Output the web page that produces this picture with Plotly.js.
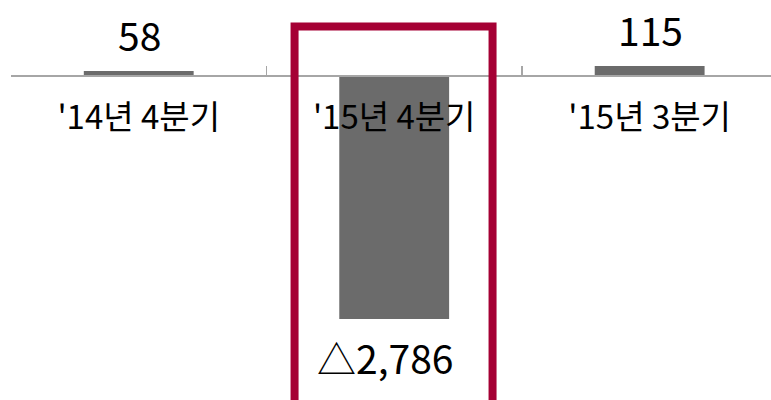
<!DOCTYPE html>
<html>
<head>
<meta charset="utf-8">
<script src="https://cdn.plot.ly/plotly-3.0.1.min.js"></script>
<style>html,body{margin:0;padding:0;background:#fff;}#chart{width:771px;height:400px;}</style>
</head>
<body>
<div id="chart"></div>
<script>
var categories = ["'14년 4분기", "'15년 4분기", "'15년 3분기"];
var values = [58, -2786, 115];

function fmt(v) {
  var s = Math.abs(v).toLocaleString('en-US');
  return v < 0 ? '△' + s : s;
}

var FONT = '"Noto Sans CJK KR", "Noto Sans", sans-serif';
var yRange = [-3715, 871];

var annotations = categories.map(function (c, i) {
  return {
    x: c, y: values[i], xref: 'x', yref: 'y',
    text: fmt(values[i]), showarrow: false,
    yanchor: 'middle', yshift: values[i] < 0 ? -38 : 37,
    xshift: values[i] < 0 ? -9 : 1,
    font: {family: FONT, size: 39, color: '#000'}
  };
});

var trace = {
  type: 'bar', x: categories, y: values,
  marker: {color: '#6b6b6b'}, width: 0.43,
  hoverinfo: 'none'
};

var layout = {
  width: 771, height: 400,
  margin: {l: 11, r: 0, t: 0, b: 0},
  paper_bgcolor: '#fff', plot_bgcolor: '#fff',
  showlegend: false,
  xaxis: {
    type: 'category', range: [-0.5, 2.475],
    anchor: 'free', position: 324 / 400,
    showline: true, linecolor: '#a6a6a6', linewidth: 2,
    ticks: 'inside', ticklen: 9, tickcolor: '#a6a6a6', tickwidth: 1.5,
    tickson: 'boundaries', showgrid: false, zeroline: false,
    tickfont: {family: FONT, size: 33, color: '#000'},
    ticklabelstandoff: 12,
    automargin: false, fixedrange: true
  },
  yaxis: {
    range: yRange, visible: false, showgrid: false, zeroline: false,
    automargin: false, fixedrange: true
  },
  annotations: annotations,
  shapes: [{
    type: 'rect', xref: 'x', yref: 'paper',
    x0: 0.61, x1: 1.385, y0: -0.01, y1: 1 - 26.5 / 400,
    line: {color: '#a50034', width: 8}, fillcolor: 'rgba(0,0,0,0)', layer: 'above'
  }]
};

Plotly.newPlot('chart', [trace], layout, {displayModeBar: false, staticPlot: true});
</script>
</body>
</html>
